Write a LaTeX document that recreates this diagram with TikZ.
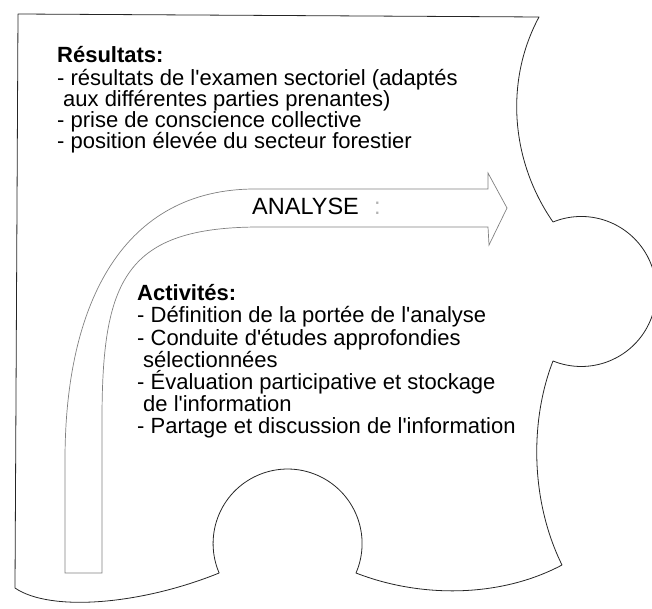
\documentclass[tikz,border=0pt]{standalone}
\usepackage{fontspec}
\setmainfont{Liberation Sans}[Ligatures=TeXOff]
\begin{document}
\begin{tikzpicture}[x=1pt,y=1pt,
  piece/.style={draw=black!85, line width=0.8pt, line join=round},
  bentarrow/.style={draw=black!50, line width=0.7pt, line join=miter},
  txt/.style={anchor=base west, inner sep=0pt, font=\fontsize{22}{22}\selectfont},
  hdr/.style={anchor=base west, inner sep=0pt, font=\fontsize{22}{22}\selectfont\bfseries},
  big/.style={anchor=base west, inner sep=0pt, font=\fontsize{23.5}{23.5}\selectfont},
]
\useasboundingbox (0,0) rectangle (652,608);
% puzzle piece outline
\draw[piece] (18,594) -- (539,591)
  .. controls (505,528) and (510,448) .. (553,386)
  arc[start angle=112.1, end angle=-112.1, radius=75]
  .. controls (530,188) and (530,108) .. (562,43)
  .. controls (500,10) and (420,10) .. (356,35)
  arc[start angle=-23.3, end angle=203.3, radius=74.5]
  .. controls (140,3) and (50,-4) .. (15,20) -- cycle;
% bent arrow
\draw[bentarrow] (65,35) -- (65,148)
  .. controls (65,308) and (125,419) .. (255,419)
  -- (488,419) -- (488,435) -- (507,400) -- (489,363) -- (488,381)
  -- (260,381) .. controls (125,381) and (102,328) .. (102,188)
  -- (102,35) -- cycle;
% arrow label
\node[big] (analyse) at (252,393) {ANALYSE};
\node[big, text=black!30] (colon) at (374,393) {:};
% Résultats block
\node[hdr] (r0) at (57,545) {Résultats:};
\node[txt] (r1) at (57,522) {- résultats de l'examen sectoriel (adaptés};
\node[txt] (r2) at (63,501) {aux différentes parties prenantes)};
\node[txt] (r3) at (57,480) {- prise de conscience collective};
\node[txt] (r4) at (57,459) {- position élevée du secteur forestier};
% Activités block
\node[hdr] (a0) at (137,307) {Activités:};
\node[txt] (a1) at (137,285) {- Définition de la portée de l'analyse};
\node[txt] (a2) at (137,263) {- Conduite d'études approfondies};
\node[txt] (a3) at (143,241) {sélectionnées};
\node[txt] (a4) at (137,219) {- Évaluation participative et stockage};
\node[txt] (a5) at (143,197) {de l'information};
\node[txt] (a6) at (137,175) {- Partage et discussion de l'information};
\end{tikzpicture}
\end{document}
